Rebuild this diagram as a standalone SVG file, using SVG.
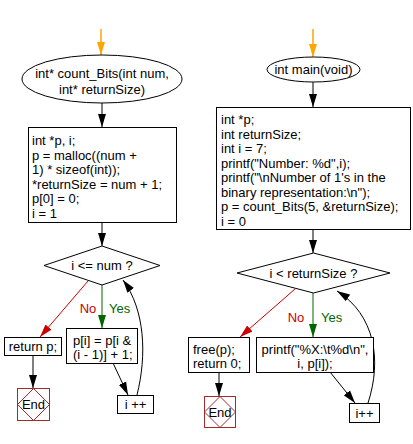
<svg xmlns="http://www.w3.org/2000/svg" width="413" height="444" viewBox="0 0 413 444">
<defs>
<style>
text{font-family:"Liberation Sans",Arial,sans-serif;font-size:13px;fill:#000}
.c{text-anchor:middle}
.box{fill:#fff;stroke:#000;stroke-width:1}
.end{fill:#fff;stroke:#a52a2a;stroke-width:1}
.ln{fill:none;stroke:#000;stroke-width:1}
.or{fill:none;stroke:#ffa500;stroke-width:1.5}
.gr{fill:none;stroke:#006600;stroke-width:1}
.rd{fill:none;stroke:#cc0000;stroke-width:1}
</style>
<marker id="ab" markerUnits="userSpaceOnUse" markerWidth="14" markerHeight="9" refX="13" refY="4.5" orient="auto"><path d="M0,0.5 L13,4.5 L0,8.5 z" fill="#000"/></marker>
<marker id="ao" markerUnits="userSpaceOnUse" markerWidth="14" markerHeight="9" refX="13" refY="4.5" orient="auto"><path d="M0,0.5 L13,4.5 L0,8.5 z" fill="#ffa500"/></marker>
<marker id="ag" markerUnits="userSpaceOnUse" markerWidth="14" markerHeight="9" refX="13" refY="4.5" orient="auto"><path d="M0,0.5 L13,4.5 L0,8.5 z" fill="#006600"/></marker>
<marker id="ar" markerUnits="userSpaceOnUse" markerWidth="14" markerHeight="9" refX="13" refY="4.5" orient="auto"><path d="M0,0.5 L13,4.5 L0,8.5 z" fill="#cc0000"/></marker>
</defs>
<rect width="413" height="444" fill="#fff"/>
<g id="connectors">
<line class="or" x1="101" y1="29" x2="101" y2="55" marker-end="url(#ao)"/>
<line class="ln" x1="102" y1="103" x2="102" y2="127" marker-end="url(#ab)"/>
<line class="ln" x1="102" y1="222" x2="102" y2="246" marker-end="url(#ab)"/>
<line class="gr" x1="102" y1="285" x2="102" y2="328" marker-end="url(#ag)"/>
<line class="rd" x1="88" y1="281" x2="40" y2="337" marker-end="url(#ar)"/>
<line class="ln" x1="33" y1="355" x2="33" y2="388" marker-end="url(#ab)"/>
<line class="ln" x1="113" y1="363" x2="128" y2="395" marker-end="url(#ab)"/>
<path class="ln" d="M137,395 C147,355 145,310 123,280" marker-end="url(#ab)"/>
<line class="or" x1="313" y1="29" x2="313" y2="57" marker-end="url(#ao)"/>
<line class="ln" x1="313" y1="82" x2="313" y2="107" marker-end="url(#ab)"/>
<line class="ln" x1="313" y1="229" x2="313" y2="253" marker-end="url(#ab)"/>
<line class="gr" x1="313" y1="293" x2="313" y2="337" marker-end="url(#ag)"/>
<line class="rd" x1="295" y1="289" x2="240" y2="337" marker-end="url(#ar)"/>
<line class="ln" x1="219" y1="372" x2="219" y2="396" marker-end="url(#ab)"/>
<line class="ln" x1="330" y1="372" x2="355" y2="403" marker-end="url(#ab)"/>
<path class="ln" d="M368,403 C382,360 375,315 337,291" marker-end="url(#ab)"/>
<text x="88" y="313" class="c" style="fill:#cc0000">No</text>
<text x="109" y="313" style="fill:#006600">Yes</text>
<text x="296" y="322" class="c" style="fill:#cc0000">No</text>
<text x="321" y="322" style="fill:#006600">Yes</text>
</g>
<g id="countBits">
<ellipse class="box" cx="102" cy="79" rx="80" ry="24"/>
<text x="102" y="78" class="c">int* count_Bits(int num,</text>
<text x="102" y="93.5" class="c">int* returnSize)</text>
</g>
<g id="initLeft">
<rect class="box" x="28.5" y="127.5" width="148" height="95"/>
<text x="32" y="145">int *p, i;</text>
<text x="32" y="159.5">p = malloc((num +</text>
<text x="32" y="174">1) * sizeof(int));</text>
<text x="32" y="188.5">*returnSize = num + 1;</text>
<text x="32" y="203">p[0] = 0;</text>
<text x="32" y="217.5">i = 1</text>
</g>
<g id="condLeft">
<polygon class="box" points="44,265.5 102,246 160,265.5 102,285"/>
<text x="102" y="270" class="c">i &lt;= num ?</text>
</g>
<g id="returnP">
<rect class="box" x="4.5" y="337.5" width="57" height="18"/>
<text x="33" y="351" class="c">return p;</text>
</g>
<g id="endLeft">
<rect class="end" x="17.5" y="388.5" width="32" height="32"/>
<polygon class="end" points="17.5,404.5 33.5,388.5 49.5,404.5 33.5,420.5" style="fill:none"/>
<text x="33.5" y="409" class="c">End</text>
</g>
<g id="bodyLeft">
<rect class="box" x="66.5" y="328.5" width="71" height="35"/>
<text x="73" y="344.5">p[i] = p[i &amp;</text>
<text x="73" y="359">(i - 1)] + 1;</text>
</g>
<g id="incLeft">
<rect class="box" x="117.5" y="395.5" width="36" height="18"/>
<text x="135.5" y="409" class="c">i ++</text>
</g>
<g id="main">
<ellipse class="box" cx="313.5" cy="69.5" rx="46.5" ry="12.5"/>
<text x="313.5" y="74" class="c">int main(void)</text>
</g>
<g id="initRight">
<rect class="box" x="216.5" y="107.5" width="194" height="122"/>
<text x="221" y="124">int *p;</text>
<text x="221" y="138.5">int returnSize;</text>
<text x="221" y="153">int i = 7;</text>
<text x="221" y="167.5">printf("Number: %d",i);</text>
<text x="221" y="182">printf("\nNumber of 1's in the</text>
<text x="221" y="196.5">binary representation:\n");</text>
<text x="221" y="211">p = count_Bits(5, &amp;returnSize);</text>
<text x="221" y="225.5">i = 0</text>
</g>
<g id="condRight">
<polygon class="box" points="237,273 313.5,253 390,273 313.5,293"/>
<text x="313.5" y="278" class="c">i &lt; returnSize ?</text>
</g>
<g id="freeP">
<rect class="box" x="188.5" y="337.5" width="61" height="35"/>
<text x="193" y="353.5">free(p);</text>
<text x="193" y="368">return 0;</text>
</g>
<g id="endRight">
<rect class="end" x="204.5" y="396.5" width="31" height="31"/>
<polygon class="end" points="204.5,412 220,396.5 235.5,412 220,427.5" style="fill:none"/>
<text x="220" y="416.5" class="c">End</text>
</g>
<g id="bodyRight">
<rect class="box" x="256.5" y="337.5" width="117" height="35"/>
<text x="315" y="353.5" class="c">printf("%X:\t%d\n",</text>
<text x="315" y="368" class="c">i, p[i]);</text>
</g>
<g id="incRight">
<rect class="box" x="349.5" y="403.5" width="30" height="19"/>
<text x="364.5" y="417.5" class="c">i++</text>
</g>
</svg>
